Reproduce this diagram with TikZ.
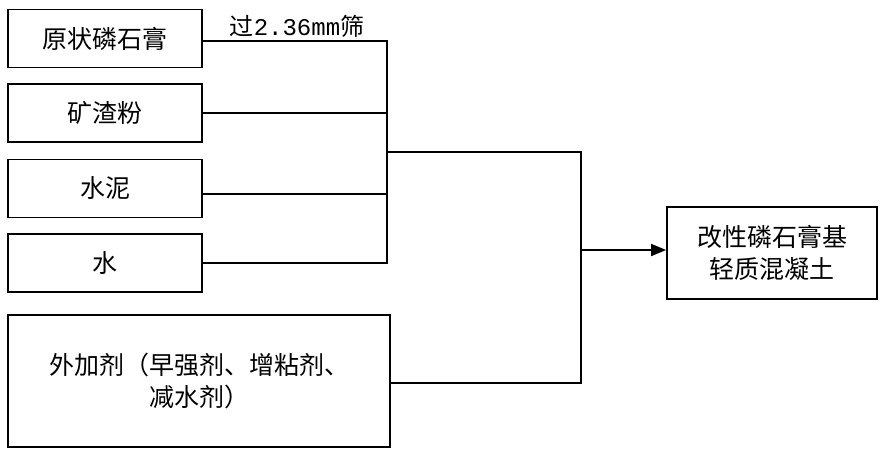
\documentclass[tikz,border=0pt]{standalone}
\usepackage{fontspec}
\setmainfont{Noto Sans CJK SC}
\newfontfamily\latinmono{Liberation Mono}
\usetikzlibrary{arrows.meta}
\begin{document}
\begin{tikzpicture}[x=1pt,y=-1pt,line width=1.8pt,
  box/.style={draw, rectangle, inner sep=0pt, font=\fontsize{25}{32}\selectfont, align=center},
  small/.style={box, minimum width=194pt, minimum height=58pt},
  conn/.style={draw, line width=1.8pt},
  arr/.style={conn, -{Triangle[length=15pt,width=12pt]}}]
\useasboundingbox (0,0) rectangle (880,448);
\node[small] (a) at (105,38.5) {原状磷石膏};
\node[small] (b) at (105,113) {矿渣粉};
\node[small] (c) at (105,188.5) {水泥};
\node[small] (d) at (105,263) {水};
\node[box, minimum width=382pt, minimum height=132pt] (e) at (199,381) {外加剂（早强剂、增粘剂、\\减水剂）};
\node[box, minimum width=210pt, minimum height=92pt] (f) at (772,253) {改性磷石膏基\\轻质混凝土};
\coordinate (j1) at (387,41);
\coordinate (j4) at (387,263);
\coordinate (m) at (387,152);
\coordinate (k1) at (581,152);
\coordinate (k2) at (581,383);
\coordinate (k3) at (581,250);
\draw[conn] ([yshift=-2.5pt]a.east) -- (j1) -- (j4) -- (d.east);
\draw[conn] (b.east) -- (b.east -| j1);
\draw[conn] ([yshift=-5.5pt]c.east) -- ([yshift=-5.5pt]c.east -| j1);
\draw[conn] (m) -- (k1) -- (k2) -- ([yshift=-2pt]e.east);
\draw[arr] (k3) -- (k3 -| f.west);
\node[font=\fontsize{24}{26}\selectfont, anchor=south, inner sep=1pt] (lbl) at (297,39) {过{\latinmono 2.36mm}筛};
\end{tikzpicture}
\end{document}
